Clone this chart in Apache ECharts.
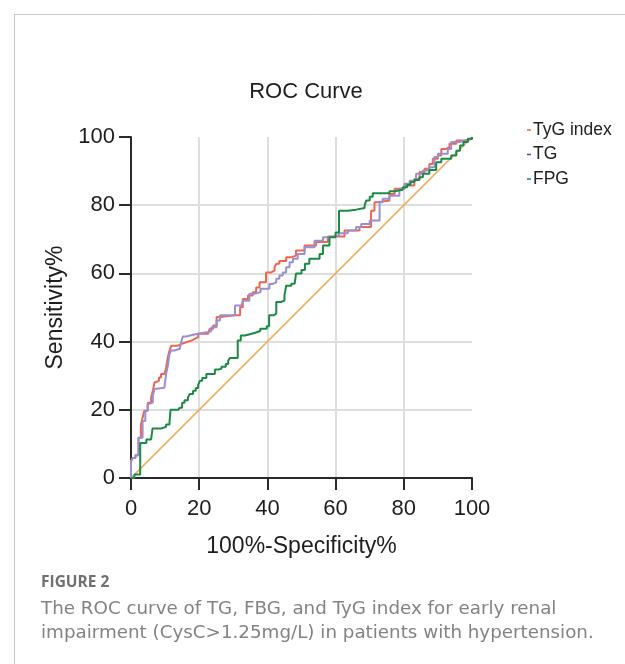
<!DOCTYPE html>
<html>
<head>
<meta charset="utf-8">
<script src="https://cdn.jsdelivr.net/npm/echarts@6/dist/echarts.min.js"></script>
<style>
  html, body { margin: 0; padding: 0; background: #fff; }
  #chart { width: 625px; height: 664px; }
</style>
</head>
<body>
<div id="chart"></div>
<script>
// x tick values (100%-Specificity%)
const xTicks = [0, 20, 40, 60, 80, 100]
const yTicks = [0, 20, 40, 60, 80, 100]

// ROC points, [1-specificity, sensitivity]
const tygIndex = [
  [0, 0], [0, 4.9], [0.5, 5.9], [1.3, 6.7], [2.2, 11.8], [2.9, 15.7], [3.4, 17.7], [3.9, 19.7],
  [4.9, 22.1], [5.9, 23.6], [6.4, 25.6], [6.9, 28], [7.4, 28.5], [8.2, 29.5], [8.8, 30.5],
  [9.8, 31], [10.3, 32.4], [10.8, 35.4], [11.3, 37.4], [11.8, 38.8], [13.8, 39.3], [14.7, 39.8],
  [16.2, 40.3], [17.7, 40.8], [18.7, 41.3], [19.7, 42.3], [22.6, 42.7], [23.1, 43.8], [24.1, 44.7],
  [25.1, 47.2], [26.1, 47.7], [30.5, 47.7], [32, 50.1], [32.8, 52.5], [34.3, 53.5], [35.7, 54.5],
  [36.7, 55.9], [37.7, 57.4], [39.6, 60.3], [41.1, 60.8], [42.1, 61.8], [42.6, 62.8], [43.5, 63.6],
  [45.5, 64.7], [47, 65.2], [48.4, 66.7], [50.9, 68.2], [54.3, 69.2], [57.7, 70.8], [62.6, 72.6],
  [67, 73.6], [70.4, 73.6], [70.4, 78.4], [71.4, 80.9], [72.4, 81.4], [75.8, 83.3], [77.3, 84.8],
  [80.2, 85.8], [83.1, 87.7], [84.6, 89.7], [86.1, 90.7], [87.5, 92.1], [88.5, 93.6], [90, 94.6],
  [91, 96.5], [92.4, 97], [93.4, 98], [95.4, 99], [97.8, 99.5], [100, 100]
]
const tg = [
  [0, 0], [0, 4.9], [0.5, 5.9], [1.3, 6.7], [2.2, 11.8], [3.4, 16.7], [4.2, 19.7], [4.9, 21.6],
  [5.4, 22.1], [6.4, 24.1], [6.9, 26.1], [7.4, 26.5], [9.8, 26.5], [10.3, 30.5], [10.8, 32.9],
  [11.3, 36.4], [11.8, 37.4], [12.8, 37.9], [14.3, 38.3], [14.7, 39.8], [15.2, 41.5], [16.2, 42],
  [18.2, 42.3], [19.7, 42.8], [22.6, 43.1], [23.6, 44.2], [25.1, 46.2], [26.1, 47.7], [30.5, 47.7],
  [30.5, 50.6], [32.4, 51.1], [32.8, 52], [34.7, 54], [36.2, 54.5], [38, 55.5], [40.6, 56.9],
  [41.6, 57.4], [42.6, 58.4], [43.5, 59.4], [44.5, 60.3], [45.5, 61.8], [46.5, 63.3], [47.5, 64.3],
  [48.9, 65.7], [50.9, 67.7], [53.8, 69.6], [56.3, 70.6], [58.2, 71.1], [61, 71.8], [63.6, 72.6],
  [66, 73.6], [67.5, 74.5], [70, 75.5], [72.9, 75.5], [72.9, 80.9], [73.8, 81.9], [75.8, 82.8],
  [78.7, 84.8], [80.2, 86.3], [81.7, 87.2], [83.6, 89.2], [85.6, 90.2], [87.5, 91.1], [89, 94.1],
  [90, 95.1], [92.9, 96.5], [93.9, 98.5], [96.3, 99], [98.3, 99.5], [100, 100]
]
const fpg = [
  [0, 0], [1, 1], [2.7, 1.5], [2.7, 10.3], [4.5, 11.3], [5.9, 11.8], [6.3, 14.5], [8.8, 14.5],
  [9.3, 15], [10.3, 15.7], [11.3, 16.5], [11.6, 20], [13.8, 20], [14.3, 20.6], [15, 22.1],
  [15.7, 22.8], [16.7, 23.6], [17.2, 24.6], [18.2, 25.6], [19, 26.4], [19.7, 27.3], [20.2, 28.5],
  [20.9, 29.3], [22.1, 30.5], [24.6, 31.8], [25.6, 32], [26.5, 32.6], [27.8, 33.4], [28.5, 34.4],
  [29, 35.2], [31.3, 35.2], [31.3, 40.3], [32.2, 41.8], [33.4, 42.3], [35.4, 42.6], [36.4, 43.1],
  [37.9, 43.8], [39.8, 44.5], [40.5, 47.7], [41.8, 48.2], [42.6, 51.6], [44, 52], [45, 53.5],
  [45.5, 56.4], [47, 57], [48, 57.4], [48.4, 60], [50, 61], [51, 62.8], [52.3, 64.3], [55.3, 65.7],
  [56.3, 68.2], [58.2, 70.6], [60, 72], [61, 72.6], [61, 78.4], [63.6, 78.7], [66, 79.2],
  [68.5, 79.9], [69, 81.4], [70, 82.5], [70.9, 83.5], [75.8, 84.1], [77.3, 84.5], [79.7, 85.3],
  [81, 86], [82, 86.8], [83.1, 87.4], [84.6, 88.2], [85.6, 89.2], [87.5, 90.3], [89.5, 92.6],
  [91, 93.6], [93.9, 94.6], [95.4, 96], [96.5, 97.5], [97.5, 98.5], [98.8, 99.5], [100, 100]
]
const reference = [[0, 0], [100, 100]]

const myChart = echarts.init(document.getElementById('chart'))

const axisCommon = {
  type: 'value',
  min: xTicks[0],
  max: xTicks[xTicks.length - 1],
  interval: 20,
  axisLine: { show: true, lineStyle: { color: '#2a2a2a', width: 2 } },
  axisTick: { show: true, length: 12, lineStyle: { color: '#2a2a2a', width: 2 } },
  splitLine: {
    show: true,
    showMinLine: false,
    showMaxLine: false,
    lineStyle: { color: '#dedede', width: 2 }
  },
  axisLabel: { color: '#1e1e1e', fontSize: 22, fontFamily: 'Liberation Sans, Arial' },
  nameTextStyle: { color: '#1e1e1e', fontSize: 23, fontFamily: 'Liberation Sans, Arial' }
}

const option = {
  backgroundColor: '#fff',
  animation: false,
  title: {
    text: 'ROC Curve',
    left: 301,
    textAlign: 'center',
    top: 76,
    textStyle: { color: '#1e1e1e', fontSize: 22, fontWeight: 'normal', fontFamily: 'Liberation Sans, Arial' }
  },
  legend: {
    orient: 'vertical',
    left: 522,
    top: 116,
    itemWidth: 4,
    itemHeight: 1.5,
    itemGap: 6.5,
    icon: 'rect',
    data: ['TyG index', 'TG', 'FPG'],
    textStyle: { color: '#222', fontSize: 17.5, lineHeight: 17, fontFamily: 'Liberation Sans, Arial', padding: [0, 0, 0, -3] }
  },
  grid: { left: 131, right: 153, top: 137, bottom: 186 },
  xAxis: Object.assign({}, axisCommon, {
    name: '100%-Specificity%',
    nameLocation: 'middle',
    nameGap: 57,
    axisLabel: Object.assign({}, axisCommon.axisLabel, { margin: 20 })
  }),
  yAxis: Object.assign({}, axisCommon, {
    min: yTicks[0],
    max: yTicks[yTicks.length - 1],
    name: 'Sensitivity%',
    nameLocation: 'middle',
    nameGap: 64,
    axisLabel: Object.assign({}, axisCommon.axisLabel, { margin: 16 })
  }),
  series: [
    {
      name: 'Reference',
      type: 'line',
      data: reference,
      symbol: 'none',
      lineStyle: { color: '#f6a44f', width: 1.6 },
      silent: true
    },
    {
      name: 'TyG index',
      type: 'line',
      step: 'end',
      data: tygIndex,
      symbol: 'none',
      itemStyle: { color: '#ee6650' },
      lineStyle: { color: '#ee6650', width: 2 }
    },
    {
      name: 'TG',
      type: 'line',
      step: 'end',
      data: tg,
      symbol: 'none',
      itemStyle: { color: '#4a4aa8' },
      lineStyle: { color: '#9990d2', width: 2 }
    },
    {
      name: 'FPG',
      type: 'line',
      step: 'end',
      data: fpg,
      symbol: 'none',
      itemStyle: { color: '#1b8a45' },
      lineStyle: { color: '#1b8a45', width: 2 }
    }
  ],
  graphic: [
    { type: 'line', shape: { x1: 14.5, y1: 14, x2: 14.5, y2: 664 }, style: { stroke: '#c8c8c8', lineWidth: 1 } },
    { type: 'line', shape: { x1: 14, y1: 14.5, x2: 625, y2: 14.5 }, style: { stroke: '#c8c8c8', lineWidth: 1 } },
    {
      type: 'text', left: 41, top: 575,
      style: { text: 'FIGURE 2', fill: '#707070', font: 'bold 15.5px "Open Sans", sans-serif' }
    },
    {
      type: 'text', left: 41, top: 597,
      style: {
        text: 'The ROC curve of TG, FBG, and TyG index for early renal\nimpairment (CysC>1.25mg/L) in patients with hypertension.',
        fill: '#838383', font: '18.3px "DejaVu Sans", sans-serif', lineHeight: 24
      }
    }
  ]
}

myChart.setOption(option)
window.addEventListener('resize', () => {
  myChart.resize()
}, false)
</script>
</body>
</html>
